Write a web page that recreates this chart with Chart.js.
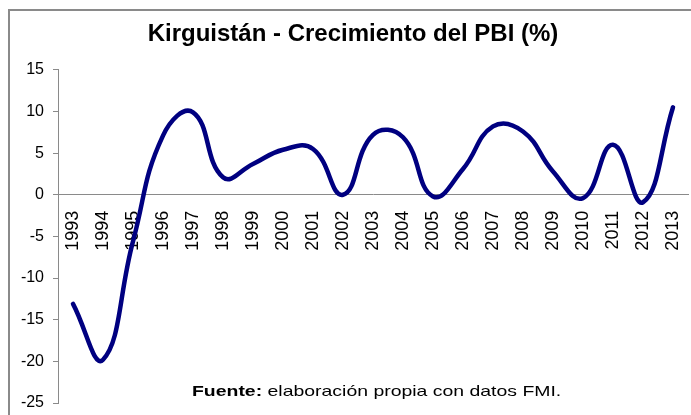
<!DOCTYPE html>
<html>
<head>
<meta charset="utf-8">
<script src="https://cdn.jsdelivr.net/npm/chart.js@4.4.1/dist/chart.umd.min.js"></script>
<style>
  html, body { margin: 0; padding: 0; background: #fff; }
  #wrap { position: relative; width: 691px; height: 415px; overflow: hidden; }
  #frame { position: absolute; left: 8px; top: 9px; width: 700px; height: 420px;
           border-left: 2px solid #8a8a8a; border-top: 2px solid #8a8a8a; box-sizing: border-box; }
  canvas { position: absolute; left: 0; top: 0; }
  #source { position: absolute; left: 192px; top: 382px; font-family: "Liberation Sans", Arial, sans-serif;
            font-size: 15px; color: #000; white-space: nowrap; transform: scaleX(1.295); transform-origin: 0 0; }
  #source b { font-weight: bold; }
</style>
</head>
<body>
<div id="wrap">
  <div id="frame"></div>
  <canvas id="c" width="691" height="415"></canvas>
  <div id="source"><b>Fuente:</b> elaboración propia con datos FMI.</div>
</div>
<script>
const years = ['1993','1994','1995','1996','1997','1998','1999','2000','2001','2002','2003',
               '2004','2005','2006','2007','2008','2009','2010','2011','2012','2013'];
const growth = [-13.1, -19.8, -5.6, 7.1, 9.9, 2.1, 3.7, 5.4, 5.5, 0.0, 7.2,
                6.9, -0.2, 3.1, 8.2, 7.6, 2.8, -0.4, 6.0, -0.9, 10.5];
const yMin = -25, yMax = 15, yStep = 5;
const titleText = 'Kirguistán - Crecimiento del PBI (%)';

new Chart(document.getElementById('c'), {
  type: 'line',
  data: {
    labels: years,
    datasets: [{
      data: growth,
      borderColor: '#000080',
      borderWidth: 4.5,
      tension: 0.45,
      pointRadius: 0,
      pointHoverRadius: 0,
      borderCapStyle: 'round',
      borderJoinStyle: 'round',
      fill: false
    }]
  },
  options: {
    responsive: false,
    animation: false,
    devicePixelRatio: 1,
    layout: { padding: { left: 18, right: 3, top: 8, bottom: 12 } },
    plugins: {
      legend: { display: false },
      tooltip: { enabled: false },
      title: {
        display: true,
        text: titleText,
        color: '#000',
        font: { family: '"Liberation Sans", Arial, sans-serif', size: 24, weight: 'bold' },
        padding: { top: 12, bottom: 21 }
      }
    },
    scales: {
      x: {
        type: 'category',
        offset: true,
        position: { y: 0 },
        grid: { display: true, drawOnChartArea: false, drawTicks: false },
        border: { display: true, color: '#8a8a8a', width: 1 },
        ticks: {
          autoSkip: false, minRotation: 90, maxRotation: 90, padding: 16,
          color: '#000',
          font: { family: '"Liberation Sans", Arial, sans-serif', size: 18 }
        },
        afterFit(scale) { scale.paddingLeft = 0; scale.paddingRight = 0; }
      },
      y: {
        min: yMin, max: yMax,
        ticks: {
          stepSize: yStep, padding: 9, color: '#000',
          font: { family: '"Liberation Sans", Arial, sans-serif', size: 16 }
        },
        grid: { display: true, drawOnChartArea: false, tickLength: 5, color: '#8a8a8a' },
        border: { display: true, color: '#8a8a8a', width: 1 },
        afterFit(scale) { scale.width = 40; scale.paddingTop = 0; scale.paddingBottom = 0; }
      }
    }
  }
});
</script>
</body>
</html>
